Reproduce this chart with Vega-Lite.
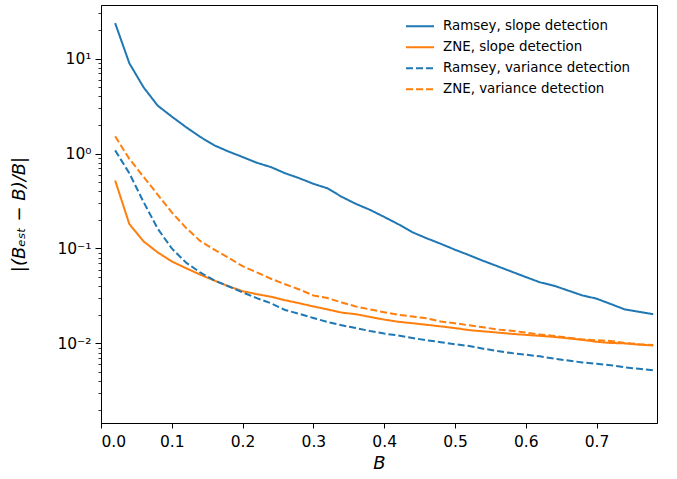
{
  "$schema": "https://vega.github.io/schema/vega-lite/v6.json",
  "width": 556,
  "height": 418,
  "autosize": {"type": "none"},
  "padding": {"left": 101, "top": 5, "right": 20, "bottom": 56},
  "background": "white",
  "config": {
    "font": "DejaVu Sans",
    "view": {"stroke": "black", "strokeWidth": 1},
    "axis": {
      "grid": false,
      "domainColor": "black",
      "tickColor": "black",
      "labelColor": "black",
      "titleColor": "black",
      "labelFont": "DejaVu Sans",
      "titleFont": "DejaVu Sans",
      "labelFontSize": 15.5,
      "titleFontWeight": "normal",
      "titleFontSize": 18
    }
  },
  "data": {
    "values": [
      {"B": 0.02, "rs": 23.6, "zs": 0.52, "rv": 1.08, "zv": 1.52},
      {"B": 0.04, "rs": 8.95, "zs": 0.181, "rv": 0.62, "zv": 0.88},
      {"B": 0.06, "rs": 5.0, "zs": 0.119, "rv": 0.31, "zv": 0.57},
      {"B": 0.08, "rs": 3.2, "zs": 0.091, "rv": 0.162, "zv": 0.37},
      {"B": 0.10, "rs": 2.45, "zs": 0.073, "rv": 0.1, "zv": 0.24},
      {"B": 0.12, "rs": 1.9, "zs": 0.062, "rv": 0.071, "zv": 0.165},
      {"B": 0.14, "rs": 1.5, "zs": 0.053, "rv": 0.056, "zv": 0.12},
      {"B": 0.16, "rs": 1.22, "zs": 0.046, "rv": 0.046, "zv": 0.097},
      {"B": 0.18, "rs": 1.05, "zs": 0.04, "rv": 0.04, "zv": 0.08},
      {"B": 0.20, "rs": 0.92, "zs": 0.0355, "rv": 0.0345, "zv": 0.065},
      {"B": 0.22, "rs": 0.8, "zs": 0.033, "rv": 0.03, "zv": 0.056},
      {"B": 0.24, "rs": 0.72, "zs": 0.031, "rv": 0.0265, "zv": 0.048},
      {"B": 0.26, "rs": 0.62, "zs": 0.0285, "rv": 0.0225, "zv": 0.042},
      {"B": 0.28, "rs": 0.55, "zs": 0.0265, "rv": 0.0205, "zv": 0.037},
      {"B": 0.30, "rs": 0.48, "zs": 0.0245, "rv": 0.0185, "zv": 0.032},
      {"B": 0.32, "rs": 0.43, "zs": 0.0228, "rv": 0.0168, "zv": 0.03},
      {"B": 0.34, "rs": 0.35, "zs": 0.0211, "rv": 0.0155, "zv": 0.027},
      {"B": 0.36, "rs": 0.295, "zs": 0.0203, "rv": 0.0145, "zv": 0.0245},
      {"B": 0.38, "rs": 0.255, "zs": 0.019, "rv": 0.0135, "zv": 0.0228},
      {"B": 0.40, "rs": 0.215, "zs": 0.0178, "rv": 0.0127, "zv": 0.0213},
      {"B": 0.42, "rs": 0.18, "zs": 0.0169, "rv": 0.0121, "zv": 0.02},
      {"B": 0.44, "rs": 0.148, "zs": 0.0163, "rv": 0.0114, "zv": 0.0192},
      {"B": 0.46, "rs": 0.128, "zs": 0.0157, "rv": 0.0108, "zv": 0.0184},
      {"B": 0.48, "rs": 0.112, "zs": 0.0151, "rv": 0.0103, "zv": 0.017},
      {"B": 0.50, "rs": 0.097, "zs": 0.0145, "rv": 0.0098, "zv": 0.0163},
      {"B": 0.52, "rs": 0.085, "zs": 0.0138, "rv": 0.0094, "zv": 0.0155},
      {"B": 0.54, "rs": 0.074, "zs": 0.0134, "rv": 0.0088, "zv": 0.0148},
      {"B": 0.56, "rs": 0.065, "zs": 0.013, "rv": 0.0083, "zv": 0.014},
      {"B": 0.58, "rs": 0.057, "zs": 0.0126, "rv": 0.0079, "zv": 0.0136},
      {"B": 0.60, "rs": 0.05, "zs": 0.0123, "rv": 0.0076, "zv": 0.013},
      {"B": 0.62, "rs": 0.044, "zs": 0.012, "rv": 0.0073, "zv": 0.0124},
      {"B": 0.64, "rs": 0.0405, "zs": 0.0117, "rv": 0.0069, "zv": 0.012},
      {"B": 0.66, "rs": 0.036, "zs": 0.0113, "rv": 0.0066, "zv": 0.0115},
      {"B": 0.68, "rs": 0.032, "zs": 0.0109, "rv": 0.0063, "zv": 0.011},
      {"B": 0.70, "rs": 0.0296, "zs": 0.0104, "rv": 0.0061, "zv": 0.0108},
      {"B": 0.72, "rs": 0.026, "zs": 0.0101, "rv": 0.0059, "zv": 0.0106},
      {"B": 0.74, "rs": 0.0228, "zs": 0.01, "rv": 0.0056, "zv": 0.0101},
      {"B": 0.76, "rs": 0.0215, "zs": 0.0097, "rv": 0.0054, "zv": 0.0098},
      {"B": 0.78, "rs": 0.0203, "zs": 0.0095, "rv": 0.0052, "zv": 0.0096}
    ]
  },
  "transform": [
    {"fold": ["rs", "zs", "rv", "zv"], "as": ["key", "err"]},
    {"lookup": "key", "from": {"data": {"values": [
      {"key": "rs", "series": "Ramsey, slope detection"},
      {"key": "zs", "series": "ZNE, slope detection"},
      {"key": "rv", "series": "Ramsey, variance detection"},
      {"key": "zv", "series": "ZNE, variance detection"}
    ]}, "key": "key", "fields": ["series"]}}
  ],
  "mark": {"type": "line", "strokeWidth": 2, "clip": true},
  "encoding": {
    "x": {
      "field": "B",
      "type": "quantitative",
      "scale": {"domain": [0, 0.7854], "nice": false, "zero": false},
      "axis": {
        "title": "B",
        "titleFontStyle": "italic",
        "titlePadding": 5,
        "values": [0, 0.1, 0.2, 0.3, 0.4, 0.5, 0.6, 0.7],
        "format": ".1f",
        "tickSize": 5,
        "labelPadding": 6
      }
    },
    "y": {
      "field": "err",
      "type": "quantitative",
      "scale": {"type": "log", "domain": [0.00145, 36.7], "nice": false},
      "axis": {
        "title": "|(Bₑₛₜ − B)/B|",
        "titleFontStyle": "italic",
        "titlePadding": 28,
        "values": [0.002, 0.003, 0.004, 0.005, 0.006, 0.007, 0.008, 0.009,
                   0.01, 0.02, 0.03, 0.04, 0.05, 0.06, 0.07, 0.08, 0.09,
                   0.1, 0.2, 0.3, 0.4, 0.5, 0.6, 0.7, 0.8, 0.9,
                   1, 2, 3, 4, 5, 6, 7, 8, 9, 10, 20, 30],
        "labelExpr": "datum.value == 10 ? '10¹' : datum.value == 1 ? '10⁰' : datum.value == 0.1 ? '10⁻¹' : datum.value == 0.01 ? '10⁻²' : ''",
        "labelOverlap": false,
        "labelBound": false,
        "labelPadding": 4,
        "tickSize": {"condition": {"test": "datum.value == 10 || datum.value == 1 || datum.value == 0.1 || datum.value == 0.01", "value": 6}, "value": 3},
        "tickWidth": {"condition": {"test": "datum.value == 10 || datum.value == 1 || datum.value == 0.1 || datum.value == 0.01", "value": 1}, "value": 0.8}
      }
    },
    "color": {
      "field": "series",
      "type": "nominal",
      "scale": {
        "domain": ["Ramsey, slope detection", "ZNE, slope detection", "Ramsey, variance detection", "ZNE, variance detection"],
        "range": ["#1f77b4", "#ff7f0e", "#1f77b4", "#ff7f0e"]
      },
      "legend": {
        "title": null,
        "orient": "none",
        "legendX": 304,
        "legendY": 11,
        "padding": 0,
        "symbolType": "stroke",
        "symbolSize": 784,
        "symbolStrokeWidth": 2,
        "clipHeight": 20.5,
        "rowPadding": 0,
        "labelOffset": 8,
        "labelFontSize": 13.4,
        "labelColor": "black",
        "labelFont": "DejaVu Sans",
        "labelLimit": 300
      }
    },
    "strokeDash": {
      "field": "series",
      "type": "nominal",
      "scale": {
        "domain": ["Ramsey, slope detection", "ZNE, slope detection", "Ramsey, variance detection", "ZNE, variance detection"],
        "range": [[1, 0], [1, 0], [7, 3], [7, 3]]
      },
      "legend": {
        "title": null,
        "orient": "none",
        "legendX": 304,
        "legendY": 11,
        "padding": 0,
        "symbolType": "stroke",
        "symbolSize": 784,
        "symbolStrokeWidth": 2,
        "clipHeight": 20.5,
        "rowPadding": 0,
        "labelOffset": 8,
        "labelFontSize": 13.4,
        "labelColor": "black",
        "labelFont": "DejaVu Sans",
        "labelLimit": 300
      }
    }
  }
}
